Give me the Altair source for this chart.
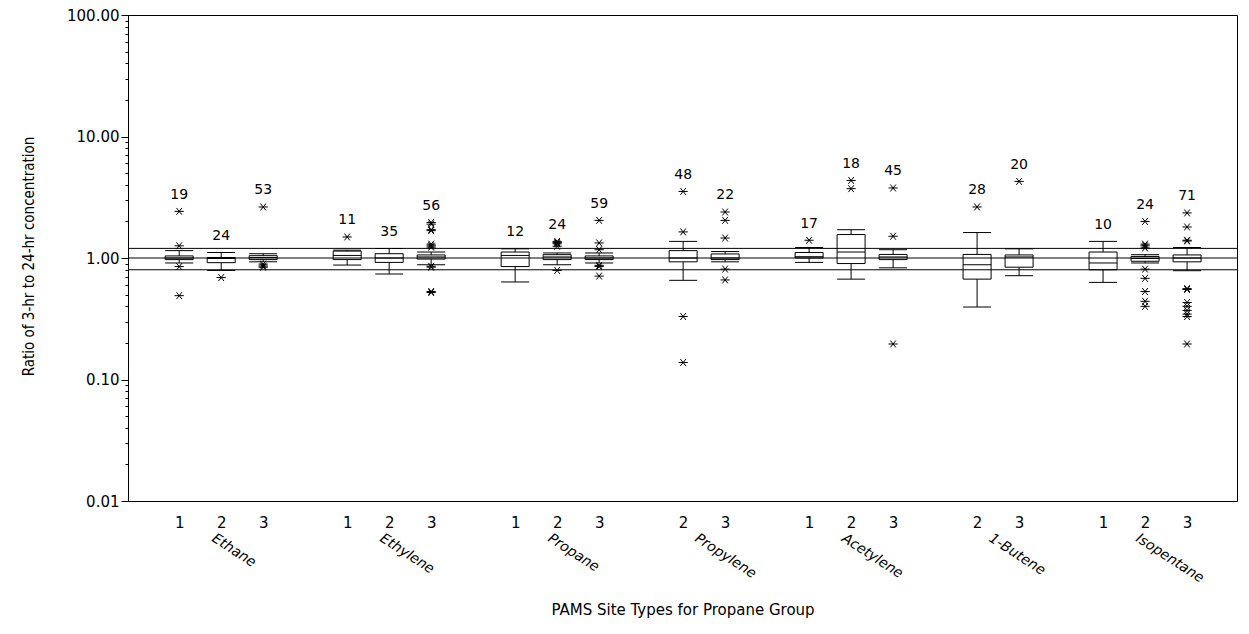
import altair as alt
import pandas as pd

# ---------------- data ----------------
groups = ["Ethane", "Ethylene", "Propane", "Propylene", "Acetylene", "1-Butene", "Isopentane"]
group_sites = [[1, 2, 3], [1, 2, 3], [1, 2, 3], [2, 3], [1, 2, 3], [2, 3], [1, 2, 3]]

counts = [19, 24, 53, 11, 35, 56, 12, 24, 59, 48, 22, 17, 18, 45, 28, 20, 10, 24, 71]
whisker_low = [0.91, 0.79, 0.93, 0.875, 0.74, 0.88, 0.635, 0.88, 0.91, 0.655, 0.93,
               0.92, 0.67, 0.83, 0.395, 0.715, 0.63, 0.91, 0.786]
quart1 = [0.97, 0.915, 0.97, 0.97, 0.92, 0.98, 0.85, 0.97, 0.97, 0.93, 0.97,
          1.00, 0.90, 0.97, 0.67, 0.84, 0.80, 0.94, 0.93]
medians = [1.00, 0.99, 1.01, 1.05, 1.00, 1.02, 1.05, 1.02, 1.00, 1.00, 1.00,
           1.025, 1.12, 1.02, 0.88, 1.02, 0.91, 0.99, 1.00]
quart3 = [1.04, 1.01, 1.045, 1.14, 1.085, 1.06, 1.12, 1.065, 1.04, 1.15, 1.08,
          1.11, 1.56, 1.07, 1.07, 1.06, 1.12, 1.03, 1.06]
whisker_high = [1.15, 1.11, 1.085, 1.16, 1.20, 1.12, 1.19, 1.10, 1.10, 1.37, 1.13,
                1.22, 1.71, 1.17, 1.62, 1.19, 1.37, 1.065, 1.22]
outliers = [
    [2.42, 1.26, 0.85, 0.49],
    [0.69],
    [2.63, 0.89, 0.86, 0.84],
    [1.49],
    [],
    [1.96, 1.90, 1.71, 1.68, 1.30, 1.26, 1.23, 0.855, 0.84, 0.53, 0.52],
    [],
    [1.37, 1.34, 1.31, 1.25, 0.79],
    [2.04, 1.33, 1.17, 0.87, 0.85, 0.71],
    [3.53, 1.64, 0.33, 0.138],
    [2.39, 2.04, 1.46, 0.81, 0.66],
    [1.40],
    [4.35, 3.72],
    [3.77, 1.51, 0.196],
    [2.63],
    [4.27],
    [],
    [2.00, 1.30, 1.26, 1.21, 0.81, 0.68, 0.53, 0.44, 0.40],
    [2.35, 1.80, 1.40, 1.38, 0.56, 0.55, 0.43, 0.40, 0.37, 0.345, 0.33, 0.196],
]
reference_values = [0.8, 1.0, 1.2]

# ---------------- build tables ----------------
rows, out_rows, grp_rows = [], [], []
slot = 0
i = 0
site_labels = {}
for g, sites in zip(groups, group_sites):
    slots_here = []
    for s in sites:
        pts = outliers[i]
        top = max([whisker_high[i]] + pts)
        rows.append(dict(group=g, site=s, slot=slot, n=counts[i], lo=whisker_low[i],
                         q1=quart1[i], med=medians[i], q3=quart3[i], hi=whisker_high[i],
                         top=top * 1.37))
        for p in pts:
            out_rows.append(dict(slot=slot, value=p))
        site_labels[slot] = str(s)
        slots_here.append(slot)
        slot += 1
        i += 1
    grp_rows.append(dict(group=g, center=sum(slots_here) / len(slots_here)))
    slot += 1
last_slot = slot - 2

boxes = pd.DataFrame(rows)
outs = pd.DataFrame(out_rows)
grps = pd.DataFrame(grp_rows)
refs = pd.DataFrame({"v": reference_values})

label_array = "[" + ",".join("'" + site_labels.get(k, "") + "'" for k in range(last_slot + 1)) + "]"

W, H = 1109, 486
FONT = "DejaVu Sans"
NARROW = "'Liberation Sans Narrow', 'DejaVu Sans Condensed', 'Liberation Sans', sans-serif"

xscale = alt.Scale(domain=[-1.1, last_slot + 1.07], nice=False, zero=False)
yscale = alt.Scale(type="log", domain=[0.01, 100], nice=False)

minor_vals = []
for e in range(-2, 2):
    for k in range(1, 10):
        minor_vals.append(float(f"{k}e{e}"))
minor_vals.append(100.0)

is_major = "abs(log(datum.value)/LN10 - round(log(datum.value)/LN10)) < 0.001"

x_axis = alt.Axis(values=list(range(last_slot + 1)), labelExpr=label_array + "[datum.value]",
                  ticks=False, grid=False, domain=False, labelFont=FONT, labelFontSize=15,
                  labelColor="black", labelPadding=14, labelAngle=0,
                  title="PAMS Site Types for Propane Group", titleFont=FONT,
                  titleFontSize=15, titleFontWeight="normal", titleColor="black",
                  titleY=108, titleBaseline="middle")
y_axis = alt.Axis(values=minor_vals, labelExpr=f"{is_major} ? format(datum.value, '.2f') : ''",
                  tickSize={"condition": {"test": is_major, "value": 7}, "value": 3},
                  tickColor="black", domainColor="black", grid=False, labelFont=FONT,
                  labelFontSize=15, labelColor="black", labelPadding=2,
                  title="Ratio of 3-hr to 24-hr concentration", titleFont=NARROW,
                  titleFontSize=15, titleFontWeight="normal", titleColor="black",
                  titleX=-100, titleY=H / 2 - 2, titleAngle=-90, titleAlign="center",
                  titleBaseline="middle", labelFlush=False, labelOverlap=False)

base = alt.Chart(boxes)
X = alt.X("slot:Q", scale=xscale, axis=x_axis)

ref_rules = alt.Chart(refs).mark_rule(color="black", strokeWidth=1).encode(
    y=alt.Y("v:Q", scale=yscale, axis=y_axis))

whisk_lo = base.mark_rule(color="black", strokeWidth=1).encode(
    x=X, y=alt.Y("lo:Q", scale=yscale), y2="q1:Q")
whisk_hi = base.mark_rule(color="black", strokeWidth=1).encode(
    x=X, y=alt.Y("q3:Q", scale=yscale), y2="hi:Q")
box = base.mark_bar(size=28, fillOpacity=0, stroke="black", strokeWidth=1).encode(
    x=X, y=alt.Y("q1:Q", scale=yscale), y2="q3:Q")
cap_lo = base.mark_tick(orient="horizontal", size=28, thickness=1, color="black", opacity=1).encode(
    x=X, y=alt.Y("lo:Q", scale=yscale))
cap_hi = base.mark_tick(orient="horizontal", size=28, thickness=1, color="black", opacity=1).encode(
    x=X, y=alt.Y("hi:Q", scale=yscale))
med = base.mark_tick(orient="horizontal", size=28, thickness=1, color="black", opacity=1).encode(
    x=X, y=alt.Y("med:Q", scale=yscale))
count_txt = base.mark_text(font=FONT, fontSize=14, color="black", baseline="middle").encode(
    x=X, y=alt.Y("top:Q", scale=yscale), text="n:Q")

asterisk = "M-1,0L1,0M-0.6,-0.75L0.6,0.75M-0.6,0.75L0.6,-0.75"
pts = alt.Chart(outs).mark_point(shape=asterisk, size=85, filled=False, color="black",
                                 strokeWidth=1, opacity=1).encode(
    x=alt.X("slot:Q", scale=xscale), y=alt.Y("value:Q", scale=yscale))

grp_txt = alt.Chart(grps).mark_text(font=FONT, fontSize=14, fontStyle="italic", color="black",
                                    angle=33, align="left", baseline="top", dx=-5).encode(
    x=alt.X("center:Q", scale=xscale), y=alt.value(H + 33), text="group:N")

chart = alt.layer(ref_rules, whisk_lo, whisk_hi, box, cap_lo, cap_hi, med, pts, count_txt, grp_txt).properties(
    width=W, height=H,
    autosize=alt.AutoSizeParams(type="none"),
    padding={"left": 120, "top": 7, "right": 4, "bottom": 122},
    background="white",
).configure_view(stroke="black", strokeWidth=1)

chart.save("out.html", embed_options={"renderer": "svg", "actions": False})
